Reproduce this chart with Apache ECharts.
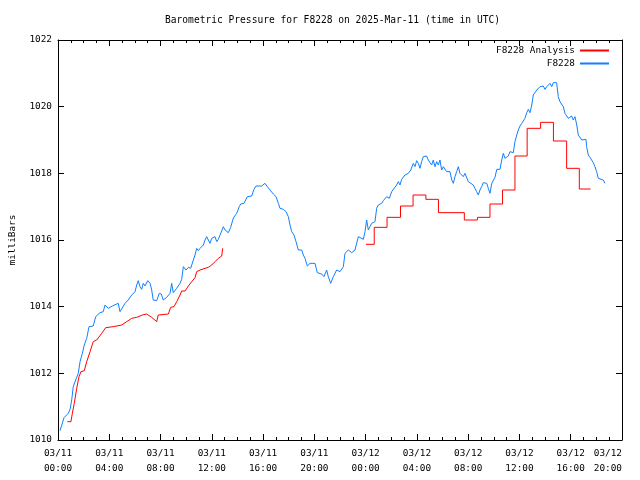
<!DOCTYPE html>
<html>
<head>
<meta charset="utf-8">
<script src="https://cdn.jsdelivr.net/npm/echarts@6/dist/echarts.min.js"></script>
<style>
html,body{margin:0;padding:0;background:#fff;}
#chart{width:640px;height:480px;}
</style>
</head>
<body>
<div id="chart"></div>
<script>
// Time in hours since 2025-03-11 00:00 UTC
const xTickLabels = ['03/11\n00:00','03/11\n04:00','03/11\n08:00','03/11\n12:00','03/11\n16:00','03/11\n20:00',
                     '03/12\n00:00','03/12\n04:00','03/12\n08:00','03/12\n12:00','03/12\n16:00','03/12\n20:00'];
const yTickValues = [1010, 1012, 1014, 1016, 1018, 1020, 1022];

// F8228 observations
const obsHours = [0.16,0.47,0.80,0.94,1.07,1.19,1.38,1.58,1.72,1.90,2.05,2.24,2.42,2.75,2.94,3.28,3.53,3.67,3.80,3.92,
  4.06,4.24,4.39,4.70,4.84,4.97,5.23,5.48,5.75,6.01,6.14,6.26,6.40,6.53,6.65,6.79,7.00,7.18,7.31,7.43,
  7.70,7.78,7.90,8.06,8.21,8.48,8.74,8.87,8.99,9.26,9.52,9.65,9.78,9.99,10.17,10.35,10.43,10.56,10.69,10.82,
  10.95,11.08,11.34,11.47,11.60,11.73,11.86,11.99,12.25,12.38,12.51,12.64,12.90,13.03,13.29,13.47,13.68,13.94,14.14,14.25,
  14.51,14.77,15.11,15.29,15.45,15.89,16.15,16.33,16.54,16.80,17.01,17.19,17.32,17.58,17.79,17.97,18.10,18.23,18.41,18.57,
  18.75,19.01,19.14,19.27,19.45,19.66,20.05,20.23,20.57,20.75,20.96,21.09,21.27,21.48,21.74,22.00,22.26,22.39,22.65,22.91,
  23.17,23.43,23.56,23.82,23.95,24.08,24.21,24.34,24.47,24.73,24.86,24.99,25.25,25.38,25.51,25.64,25.85,26.03,26.16,26.42,
  26.55,26.68,26.81,26.94,27.07,27.33,27.52,27.72,27.85,27.98,28.11,28.24,28.37,28.50,28.63,28.76,28.89,29.02,29.15,29.28,
  29.41,29.54,29.67,29.80,29.93,30.06,30.19,30.32,30.58,30.72,30.84,30.97,31.10,31.23,31.36,31.62,31.75,31.88,32.01,32.14,
  32.40,32.53,32.66,32.79,32.92,33.05,33.18,33.45,33.57,33.70,33.84,33.96,34.09,34.23,34.35,34.48,34.62,34.74,34.87,35.00,
  35.13,35.26,35.40,35.52,35.65,35.79,35.91,36.04,36.18,36.30,36.43,36.57,36.69,36.82,36.96,37.08,37.21,37.35,37.47,37.60,
  37.74,37.86,37.99,38.13,38.25,38.38,38.52,38.64,38.90,39.03,39.16,39.30,39.42,39.55,39.69,39.81,39.94,40.07,40.20,40.33,
  40.47,40.59,40.72,40.86,40.98,41.19,41.24,41.37,41.50,41.64,41.76,41.89,42.02,42.15,42.28,42.54,42.67];
const obsValues = [1010.28,1010.67,1010.80,1010.92,1011.20,1011.60,1011.80,1012.00,1012.35,1012.60,1012.85,1013.05,1013.40,1013.42,1013.70,1013.82,1013.85,1014.05,1014.10,1013.95,
  1014.00,1014.02,1014.08,1014.10,1013.85,1013.90,1014.10,1014.20,1014.35,1014.45,1014.65,1014.78,1014.60,1014.52,1014.70,1014.62,1014.78,1014.70,1014.50,1014.20,
  1014.18,1014.12,1014.40,1014.38,1014.20,1014.28,1014.40,1014.70,1014.42,1014.55,1014.70,1014.82,1015.20,1015.10,1015.18,1015.15,1015.20,1015.40,1015.55,1015.75,
  1015.68,1015.75,1015.85,1016.00,1016.10,1016.00,1015.90,1016.05,1016.10,1015.95,1016.02,1016.05,1016.40,1016.30,1016.22,1016.38,1016.66,1016.80,1017.00,1017.08,
  1017.10,1017.30,1017.32,1017.52,1017.62,1017.62,1017.70,1017.60,1017.50,1017.38,1017.30,1017.10,1016.95,1016.92,1016.85,1016.70,1016.45,1016.25,1016.15,1015.95,
  1015.70,1015.70,1015.55,1015.45,1015.22,1015.30,1015.30,1015.02,1014.98,1014.90,1015.10,1014.90,1014.70,1014.90,1015.10,1015.05,1015.20,1015.60,1015.70,1015.62,
  1015.70,1016.10,1016.05,1016.02,1016.25,1016.60,1016.30,1016.40,1016.50,1016.55,1016.95,1017.05,1017.10,1017.18,1017.20,1017.30,1017.25,1017.45,1017.40,1017.65,
  1017.75,1017.65,1017.82,1017.80,1017.95,1018.00,1018.10,1018.30,1018.20,1018.38,1018.30,1018.15,1018.35,1018.50,1018.45,1018.52,1018.40,1018.45,1018.25,1018.40,
  1018.20,1018.35,1018.25,1018.40,1018.10,1018.20,1018.15,1018.05,1018.05,1017.80,1017.70,1017.90,1018.05,1018.20,1018.00,1017.90,1018.00,1017.95,1017.75,1017.70,
  1017.65,1017.55,1017.45,1017.35,1017.50,1017.60,1017.72,1017.70,1017.55,1017.40,1017.70,1017.75,1017.88,1018.12,1018.10,1018.12,1018.40,1018.60,1018.45,1018.50,
  1018.52,1018.65,1018.70,1018.62,1018.95,1019.15,1019.30,1019.42,1019.50,1019.55,1019.65,1019.82,1019.92,1019.82,1020.05,1020.35,1020.40,1020.50,1020.48,1020.60,
  1020.55,1020.62,1020.52,1020.60,1020.58,1020.70,1020.60,1020.72,1020.72,1020.30,1020.15,1020.10,1020.00,1019.80,1019.72,1019.65,1019.65,1019.72,1019.60,1019.70,
  1019.45,1019.15,1019.15,1019.00,1019.05,1019.02,1018.80,1018.55,1018.48,1018.45,1018.32,1018.20,1018.05,1017.85,1017.82,1017.80,1017.70];

// F8228 Analysis, first run (03/11)
const anaHours1 = [0.73,1.01,1.12,1.27,1.46,1.64,1.79,2.05,2.24,2.50,2.75,3.02,3.41,3.72,4.31,4.97,5.36,5.75,6.14,6.58,
  6.92,7.31,7.70,7.82,8.61,8.79,9.05,9.26,9.52,9.65,9.91,10.17,10.43,10.69,10.82,11.08,11.47,11.73,11.99,12.25,12.51,12.77,12.85];
const anaValues1 = [1010.55,1010.55,1010.80,1011.10,1011.55,1011.90,1012.05,1012.08,1012.35,1012.65,1012.95,1013.00,1013.20,1013.37,1013.40,1013.45,1013.55,1013.65,1013.68,1013.75,
  1013.78,1013.68,1013.55,1013.75,1013.78,1013.98,1014.00,1014.15,1014.35,1014.47,1014.47,1014.62,1014.75,1014.87,1015.05,1015.10,1015.15,1015.18,1015.25,1015.35,1015.45,1015.52,1015.75];

// F8228 Analysis, second run (03/12), hourly steps
const anaHours2 = [24.02,24.67,25.67,26.72,27.70,28.70,29.68,31.70,32.72,33.70,34.68,35.65,36.60,37.65,38.65,39.68,40.67,41.55];
const anaValues2 = [1015.87,1016.38,1016.68,1017.02,1017.35,1017.22,1016.82,1016.60,1016.68,1017.08,1017.50,1018.52,1019.35,1019.53,1018.97,1018.15,1017.53,1017.53];

const FONT = 'DejaVu Sans Mono';
const FS = 9.4;
const zip = (a, b) => a.map((v, i) => [v, b[i]]);

const chart = echarts.init(document.getElementById('chart'), null, {renderer: 'canvas'});

const xBase = {
  type: 'value', min: 0, max: 44, interval: 4,
  axisLine: {show: true, lineStyle: {color: '#000', width: 1}},
  axisTick: {show: true, inside: true, length: 6, lineStyle: {color: '#000'}},
  minorTick: {show: true, splitNumber: 4, length: 3, lineStyle: {color: '#000'}},
  splitLine: {show: false}
};
const yBase = {
  type: 'value', min: 1010, max: 1022, interval: 2,
  axisLine: {show: true, onZero: false, lineStyle: {color: '#000', width: 1}},
  axisTick: {show: true, inside: true, length: 6, lineStyle: {color: '#000'}},
  splitLine: {show: false}
};

chart.setOption({
  animation: false,
  backgroundColor: '#fff',
  textStyle: {fontFamily: FONT, fontSize: FS, color: '#000'},
  title: {
    text: 'Barometric Pressure for F8228 on 2025-Mar-11 (time in UTC)',
    left: 165, top: 15, padding: 0,
    textStyle: {fontFamily: FONT, fontSize: 9.6, fontWeight: 'normal', color: '#000'}
  },
  grid: {left: 58, right: 18, top: 40, bottom: 40, containLabel: false},
  legend: {
    data: ['F8228 Analysis', 'F8228'],
    orient: 'vertical', align: 'right',
    right: 30, top: 44, padding: 0,
    itemWidth: 29, itemHeight: 13, itemGap: 0,
    itemStyle: {opacity: 0, color: 'transparent', borderWidth: 0},
    textStyle: {fontFamily: FONT, fontSize: FS, color: '#000', lineHeight: 13},
    selectedMode: false
  },
  xAxis: [
    Object.assign({}, xBase, {
      position: 'bottom',
      axisLabel: {
        show: true, margin: 6, lineHeight: 15,
        fontFamily: FONT, fontSize: FS, color: '#000',
        alignMaxLabel: 'right',
        formatter: v => xTickLabels[Math.round(v / 4)] || ''
      }
    }),
    Object.assign({}, xBase, {position: 'top', axisLabel: {show: false}})
  ],
  yAxis: [
    Object.assign({}, yBase, {
      position: 'left',
      name: 'milliBars', nameLocation: 'middle', nameGap: 41,
      nameTextStyle: {fontFamily: FONT, fontSize: FS, color: '#000'},
      axisLabel: {show: true, margin: 6, fontFamily: FONT, fontSize: FS, color: '#000',
        formatter: v => (yTickValues.indexOf(v) >= 0 ? String(v) : '')}
    }),
    Object.assign({}, yBase, {position: 'right', axisLabel: {show: false}})
  ],
  series: [
    {
      name: 'F8228 Analysis', type: 'line', xAxisIndex: 0, yAxisIndex: 0,
      data: zip(anaHours1, anaValues1),
      showSymbol: false, symbol: 'none',
      lineStyle: {color: '#ff0000', width: 1}, itemStyle: {color: '#ff0000'}
    },
    {
      name: 'F8228 Analysis', type: 'line', xAxisIndex: 0, yAxisIndex: 0,
      data: zip(anaHours2, anaValues2), step: 'end',
      showSymbol: false, symbol: 'none',
      lineStyle: {color: '#ff0000', width: 1}, itemStyle: {color: '#ff0000'}
    },
    {
      name: 'F8228', type: 'line', xAxisIndex: 0, yAxisIndex: 0,
      data: zip(obsHours, obsValues),
      showSymbol: false, symbol: 'none',
      lineStyle: {color: '#1080ff', width: 1}, itemStyle: {color: '#1080ff'}
    }
  ]
});
</script>
</body>
</html>
